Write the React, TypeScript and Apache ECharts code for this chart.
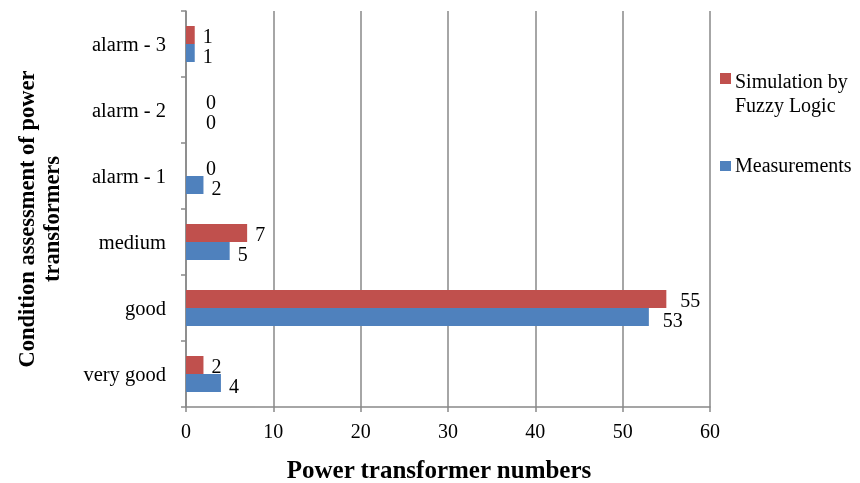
import React, { useEffect, useRef } from "react";
import * as echarts from "echarts";

const categories = ["very good", "good", "medium", "alarm - 1", "alarm - 2", "alarm - 3"];
const simulation = [2, 55, 7, 0, 0, 1];
const measurements = [4, 53, 5, 2, 0, 1];
const seriesNames = ["Simulation by\nFuzzy Logic", "Measurements"];
const colors = ["#C0504D", "#4F81BD"];

const FONT = "'Liberation Serif', 'Times New Roman', serif";

function toItems(values: number[]) {
  return values.map((v) => ({
    value: v,
    label: { distance: v === 0 ? 20 : v > 50 ? 14 : 8 },
  }));
}

export default function App() {
  const ref = useRef<HTMLDivElement>(null);
  useEffect(() => {
    if (!ref.current) return;
    const chart = echarts.init(ref.current, null, { renderer: "svg" });
    const makeLabel = (dy: number) => ({
      show: true,
      position: "right" as const,
      distance: 8,
      fontFamily: FONT,
      fontSize: 20,
      lineHeight: 18,
      color: "#000",
      offset: [0, dy],
    });
    const axisColor = "#888888";
    chart.setOption({
      animation: false,
      textStyle: { fontFamily: FONT },
      grid: {
        left: 186,
        right: 150,
        top: 11,
        bottom: 76,
        containLabel: false,
        outerBoundsMode: "none",
      },
      xAxis: {
        type: "value",
        min: 0,
        max: 60,
        interval: 10,
        name: "Power transformer numbers",
        nameLocation: "middle",
        nameGap: 50,
        nameTextStyle: {
          fontFamily: FONT,
          fontSize: 25,
          fontWeight: "bold",
          color: "#000",
          padding: [0, 18, 0, 0],
        },
        axisLine: { show: true, lineStyle: { color: axisColor, width: 1.5 } },
        axisTick: { show: true, length: 5, lineStyle: { color: axisColor, width: 1.5 } },
        axisLabel: { fontFamily: FONT, fontSize: 20, color: "#000", margin: 14 },
        splitLine: { show: true, lineStyle: { color: axisColor, width: 1.5 } },
      },
      yAxis: {
        type: "category",
        data: categories,
        name: "Condition assessment of power\ntransformers",
        nameLocation: "middle",
        nameGap: 122,
        nameTextStyle: {
          fontFamily: FONT,
          fontSize: 22.5,
          fontWeight: "bold",
          color: "#000",
          lineHeight: 25,
          padding: [0, 20, 0, 0],
        },
        axisLine: { show: true, lineStyle: { color: axisColor, width: 1.5 } },
        axisTick: { show: true, length: 5, lineStyle: { color: axisColor, width: 1.5 } },
        axisLabel: { fontFamily: FONT, fontSize: 20.5, color: "#000", margin: 20 },
        splitLine: { show: false },
      },
      series: [
        {
          name: seriesNames[0],
          type: "bar",
          data: toItems(simulation),
          itemStyle: { color: colors[0] },
          barWidth: 18,
          barGap: "0%",
          label: makeLabel(1),
        },
        {
          name: seriesNames[1],
          type: "bar",
          data: toItems(measurements),
          itemStyle: { color: colors[1] },
          barWidth: 18,
          barGap: "0%",
          label: makeLabel(3),
        },
      ],
      graphic: [
        { type: "rect", left: 720, top: 73, shape: { width: 11, height: 11 }, style: { fill: colors[0] } },
        {
          type: "text",
          left: 735,
          top: 69,
          style: { text: seriesNames[0], font: `20px ${FONT}`, fill: "#000", lineHeight: 24 },
        },
        { type: "rect", left: 720, top: 161, shape: { width: 11, height: 10 }, style: { fill: colors[1] } },
        {
          type: "text",
          left: 735,
          top: 155,
          style: { text: seriesNames[1], font: `20px ${FONT}`, fill: "#000" },
        },
      ],
    });
    return () => chart.dispose();
  }, []);
  return (
    <div
      ref={ref}
      style={{ position: "fixed", left: 0, top: 0, width: 860, height: 483 }}
    />
  );
}
